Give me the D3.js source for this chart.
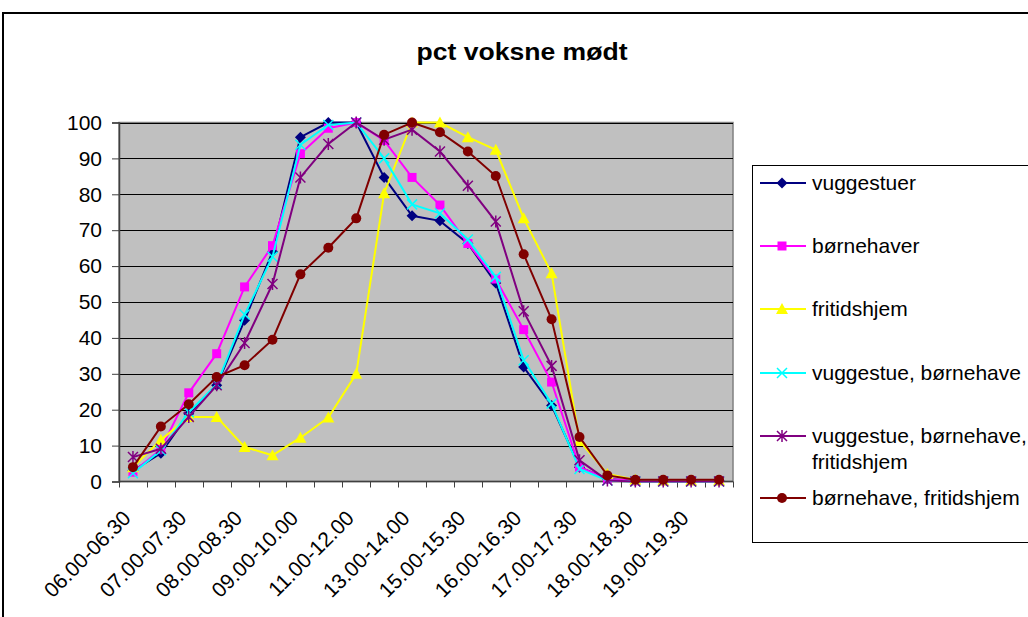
<!DOCTYPE html>
<html>
<head>
<meta charset="utf-8">
<script src="https://cdn.jsdelivr.net/npm/d3@7"></script>
<style>
  body { margin: 0; background: #fff; }
  svg { font-family: "Liberation Sans", Arial, sans-serif; }
</style>
</head>
<body>
<svg id="chart" width="1028" height="617"></svg>
<script>
// Kategorier (tidsintervaller)
var categories = ["06.00-06.30", "06.30-07.00", "07.00-07.30", "07.30-08.00", "08.00-08.30", "08.30-09.00",
  "09.00-10.00", "10.00-11.00", "11.00-12.00", "12.00-13.00", "13.00-14.00", "14.00-15.00",
  "15.00-15.30", "15.30-16.00", "16.00-16.30", "16.30-17.00", "17.00-17.30", "17.30-18.00",
  "18.00-18.30", "18.30-19.00", "19.00-19.30", "19.30-20.00"];

// Serier
var vuggestuer = [3, 7.9, 18.9, 26.8, 44.9, 64, 95.9, 100, 100, 84.7, 74, 72.6, 66.3, 55.3, 31.9, 21.2, 4, 0.7, 0.2, 0.2, 0.2, 0.2];
var boernehaver = [2.6, 9, 24.7, 35.6, 54.2, 65.7, 91.3, 98.4, 100, 95, 84.7, 77, 66.3, 56.4, 42.3, 27.7, 4, 0.7, 0.2, 0.2, 0.2, 0.2];
var fritidshjem = [4, 11.6, 18, 18, 9.6, 7.3, 12.2, 17.8, 30, 80.3, 100, 100, 95.9, 92.4, 73.3, 58, 11.3, 2.1, 0.5, 0.3, 0.3, 0.3];
var vugBoern = [2.3, 8.7, 19.3, 27, 46.5, 62.6, 93.8, 99.3, 100, 90, 77.2, 74.7, 67.4, 57, 33.8, 21.7, 3.5, 0.3, 0, 0, 0, 0];
var vugBoernFrit = [6.8, 9.1, 18, 26.8, 38.6, 55, 84.7, 94, 100, 95.2, 98, 91.9, 82.4, 72.4, 47.4, 32.2, 5.9, 0.3, 0, 0, 0, 0];
var boernFrit = [4, 15.3, 21.5, 29.1, 32.4, 39.5, 57.7, 65.1, 73.3, 96.6, 100, 97.3, 91.9, 85.1, 63.3, 45.2, 12.4, 1.7, 0.5, 0.5, 0.5, 0.5];

var yTicks = [0, 10, 20, 30, 40, 50, 60, 70, 80, 90, 100];

var series = [
  { name: ["vuggestuer"], values: vuggestuer, color: "#000080", marker: "diamond" },
  { name: ["børnehaver"], values: boernehaver, color: "#FF00FF", marker: "square" },
  { name: ["fritidshjem"], values: fritidshjem, color: "#FFFF00", marker: "triangle" },
  { name: ["vuggestue, børnehave"], values: vugBoern, color: "#00FFFF", marker: "x" },
  { name: ["vuggestue, børnehave,", "fritidshjem"], values: vugBoernFrit, color: "#800080", marker: "star" },
  { name: ["børnehave, fritidshjem"], values: boernFrit, color: "#800000", marker: "circle" }
];

var svg = d3.select("#chart");

// Ydre ramme
svg.append("rect")
  .attr("x", 3).attr("y", 13)
  .attr("width", 1040).attr("height", 640)
  .attr("fill", "#fff")
  .attr("stroke", "#000")
  .attr("stroke-width", 2);

// Titel
svg.append("text")
  .attr("x", 522).attr("y", 60)
  .attr("text-anchor", "middle")
  .attr("textLength", 211)
  .attr("lengthAdjust", "spacingAndGlyphs")
  .style("font-size", "23px")
  .style("font-weight", "bold")
  .text("pct voksne mødt");

var plot = { left: 119, top: 122.5, right: 733, bottom: 481.5 };

var x = d3.scaleBand().domain(categories).range([plot.left, plot.right]);
var y = d3.scaleLinear().domain([0, 100]).range([plot.bottom, plot.top]);

// Plotområde
svg.append("rect")
  .attr("x", plot.left).attr("y", plot.top)
  .attr("width", plot.right - plot.left).attr("height", plot.bottom - plot.top)
  .attr("fill", "#C0C0C0")
  .attr("stroke", "#808080")
  .attr("stroke-width", 1.5);

// Gitterlinjer
svg.append("g")
  .selectAll("line")
  .data(yTicks.slice(1))
  .enter().append("line")
  .attr("x1", plot.left).attr("x2", plot.right)
  .attr("y1", function(d) { return Math.round(y(d)) + 0.5; })
  .attr("y2", function(d) { return Math.round(y(d)) + 0.5; })
  .attr("stroke", "#000")
  .attr("stroke-width", 1);

// Y-akse
var yAxis = d3.axisLeft(y).tickValues(yTicks).tickSize(7).tickPadding(10);
var gy = svg.append("g")
  .attr("transform", "translate(" + plot.left + ",0)")
  .call(yAxis);
gy.select(".domain").attr("stroke", "#404040").attr("stroke-width", 1.5);
gy.selectAll(".tick line").attr("stroke", "#404040");
gy.selectAll("text").style("font-size", "21px").attr("fill", "#000").attr("font-family", null);

// X-akse (tick ved kategorigrænser)
var bounds = d3.range(categories.length + 1).map(function(i) { return plot.left + i * x.step(); });
svg.append("line")
  .attr("x1", plot.left).attr("x2", plot.right)
  .attr("y1", plot.bottom).attr("y2", plot.bottom)
  .attr("stroke", "#404040").attr("stroke-width", 1.5);
svg.append("g")
  .selectAll("line")
  .data(bounds)
  .enter().append("line")
  .attr("x1", function(d) { return Math.round(d) + 0.5; })
  .attr("x2", function(d) { return Math.round(d) + 0.5; })
  .attr("y1", plot.bottom).attr("y2", plot.bottom + 6)
  .attr("stroke", "#404040");

// Kategorietiketter (hver anden)
svg.append("g")
  .selectAll("text")
  .data(categories.filter(function(d, i) { return i % 2 === 0; }))
  .enter().append("text")
  .attr("transform", function(d) {
    return "translate(" + (x(d) + x.bandwidth() / 2 - 1) + "," + (plot.bottom + 38) + ") rotate(-45)";
  })
  .attr("text-anchor", "end")
  .style("font-size", "21px")
  .text(function(d) { return d; });

// Markører
function drawMarker(g, s, cx, cy) {
  var p = d3.path();
  if (s.marker === "x" || s.marker === "star") {
    p.moveTo(cx - 5, cy - 5); p.lineTo(cx + 5, cy + 5);
    p.moveTo(cx - 5, cy + 5); p.lineTo(cx + 5, cy - 5);
    if (s.marker === "star") { p.moveTo(cx, cy - 6); p.lineTo(cx, cy + 6); }
    g.append("path")
      .attr("d", p.toString())
      .attr("stroke", s.color).attr("stroke-width", 1.5).attr("fill", "none");
    return;
  }
  if (s.marker === "diamond") {
    p.moveTo(cx, cy - 5.5); p.lineTo(cx + 5.5, cy); p.lineTo(cx, cy + 5.5); p.lineTo(cx - 5.5, cy); p.closePath();
  } else if (s.marker === "square") {
    p.rect(cx - 4.5, cy - 4.5, 9, 9);
  } else if (s.marker === "triangle") {
    p.moveTo(cx, cy - 6); p.lineTo(cx + 6, cy + 5); p.lineTo(cx - 6, cy + 5); p.closePath();
  } else {
    p.arc(cx, cy, 5, 0, 2 * Math.PI);
  }
  g.append("path").attr("d", p.toString()).attr("fill", s.color);
}

var line = d3.line()
  .x(function(d, i) { return x(categories[i]) + x.bandwidth() / 2; })
  .y(function(d) { return y(d); });

series.forEach(function(s) {
  var g = svg.append("g");
  g.append("path")
    .datum(s.values)
    .attr("d", line)
    .attr("fill", "none")
    .attr("stroke", s.color)
    .attr("stroke-width", 2);
  s.values.forEach(function(v, i) {
    drawMarker(g, s, x(categories[i]) + x.bandwidth() / 2, y(v));
  });
});

// Forklaring
svg.append("rect")
  .attr("x", 752.5).attr("y", 165.5)
  .attr("width", 300).attr("height", 377)
  .attr("fill", "#fff")
  .attr("stroke", "#000")
  .attr("stroke-width", 1);

var legendY = [183, 246, 309, 373, 436, 498];
series.forEach(function(s, i) {
  var g = svg.append("g");
  var ly = legendY[i];
  g.append("line")
    .attr("x1", 760).attr("x2", 806)
    .attr("y1", ly).attr("y2", ly)
    .attr("stroke", s.color).attr("stroke-width", 2);
  drawMarker(g, s, 782, ly);
  s.name.forEach(function(t, j) {
    g.append("text")
      .attr("x", 812).attr("y", ly + j * 26)
      .attr("dy", "0.35em")
      .style("font-size", "21px")
      .text(t);
  });
});
</script>
</body>
</html>
